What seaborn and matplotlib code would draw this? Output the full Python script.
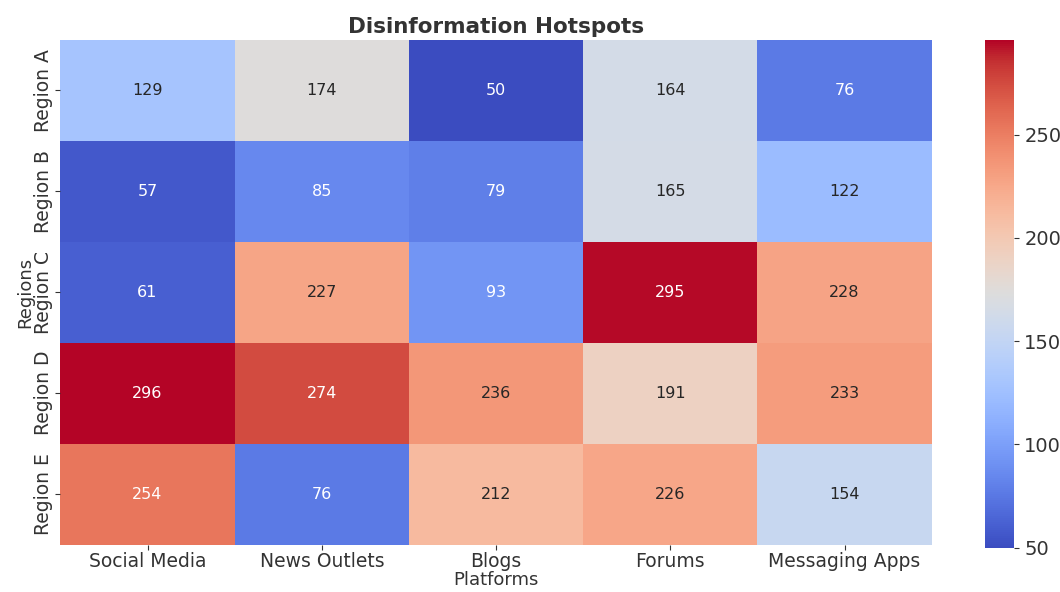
import numpy as np
import pandas as pd
import matplotlib
matplotlib.use('Agg')
import matplotlib.pyplot as plt
import seaborn as sns

regions = ['Region A', 'Region B', 'Region C', 'Region D', 'Region E']
platforms = ['Social Media', 'News Outlets', 'Blogs', 'Forums', 'Messaging Apps']
region_a = [129, 174, 50, 164, 76]
region_b = [57, 85, 79, 165, 122]
region_c = [61, 227, 93, 295, 228]
region_d = [296, 274, 236, 191, 233]
region_e = [254, 76, 212, 226, 154]

df = pd.DataFrame([region_a, region_b, region_c, region_d, region_e],
                  index=regions, columns=platforms)

fig = plt.figure(figsize=(10.6, 5.92), dpi=100)
ax = fig.add_axes([0.057, 0.08, 0.822, 0.853])
cax = fig.add_axes([0.929, 0.075, 0.028, 0.858])

sns.heatmap(df, annot=True, fmt='d', cmap='coolwarm', ax=ax, cbar_ax=cax,
            annot_kws={'size': 11.5})

ax.set_title('Disinformation Hotspots', fontsize=15.5, fontweight='bold', color='#333333', pad=5)
ax.set_xlabel('Platforms', fontsize=13, color='#333333', labelpad=0)
ax.set_ylabel('Regions', fontsize=13, color='#333333', labelpad=0)
ax.tick_params(axis='x', labelsize=13.5, rotation=0, colors='#333333', pad=2)
ax.tick_params(axis='y', labelsize=13.5, colors='#333333', pad=2)
plt.setp(ax.get_yticklabels(), rotation=90, va='center')
cax.tick_params(labelsize=14, colors='#333333')
cax.set_yticks([50, 100, 150, 200, 250])

fig.savefig('out.png', dpi=100)
